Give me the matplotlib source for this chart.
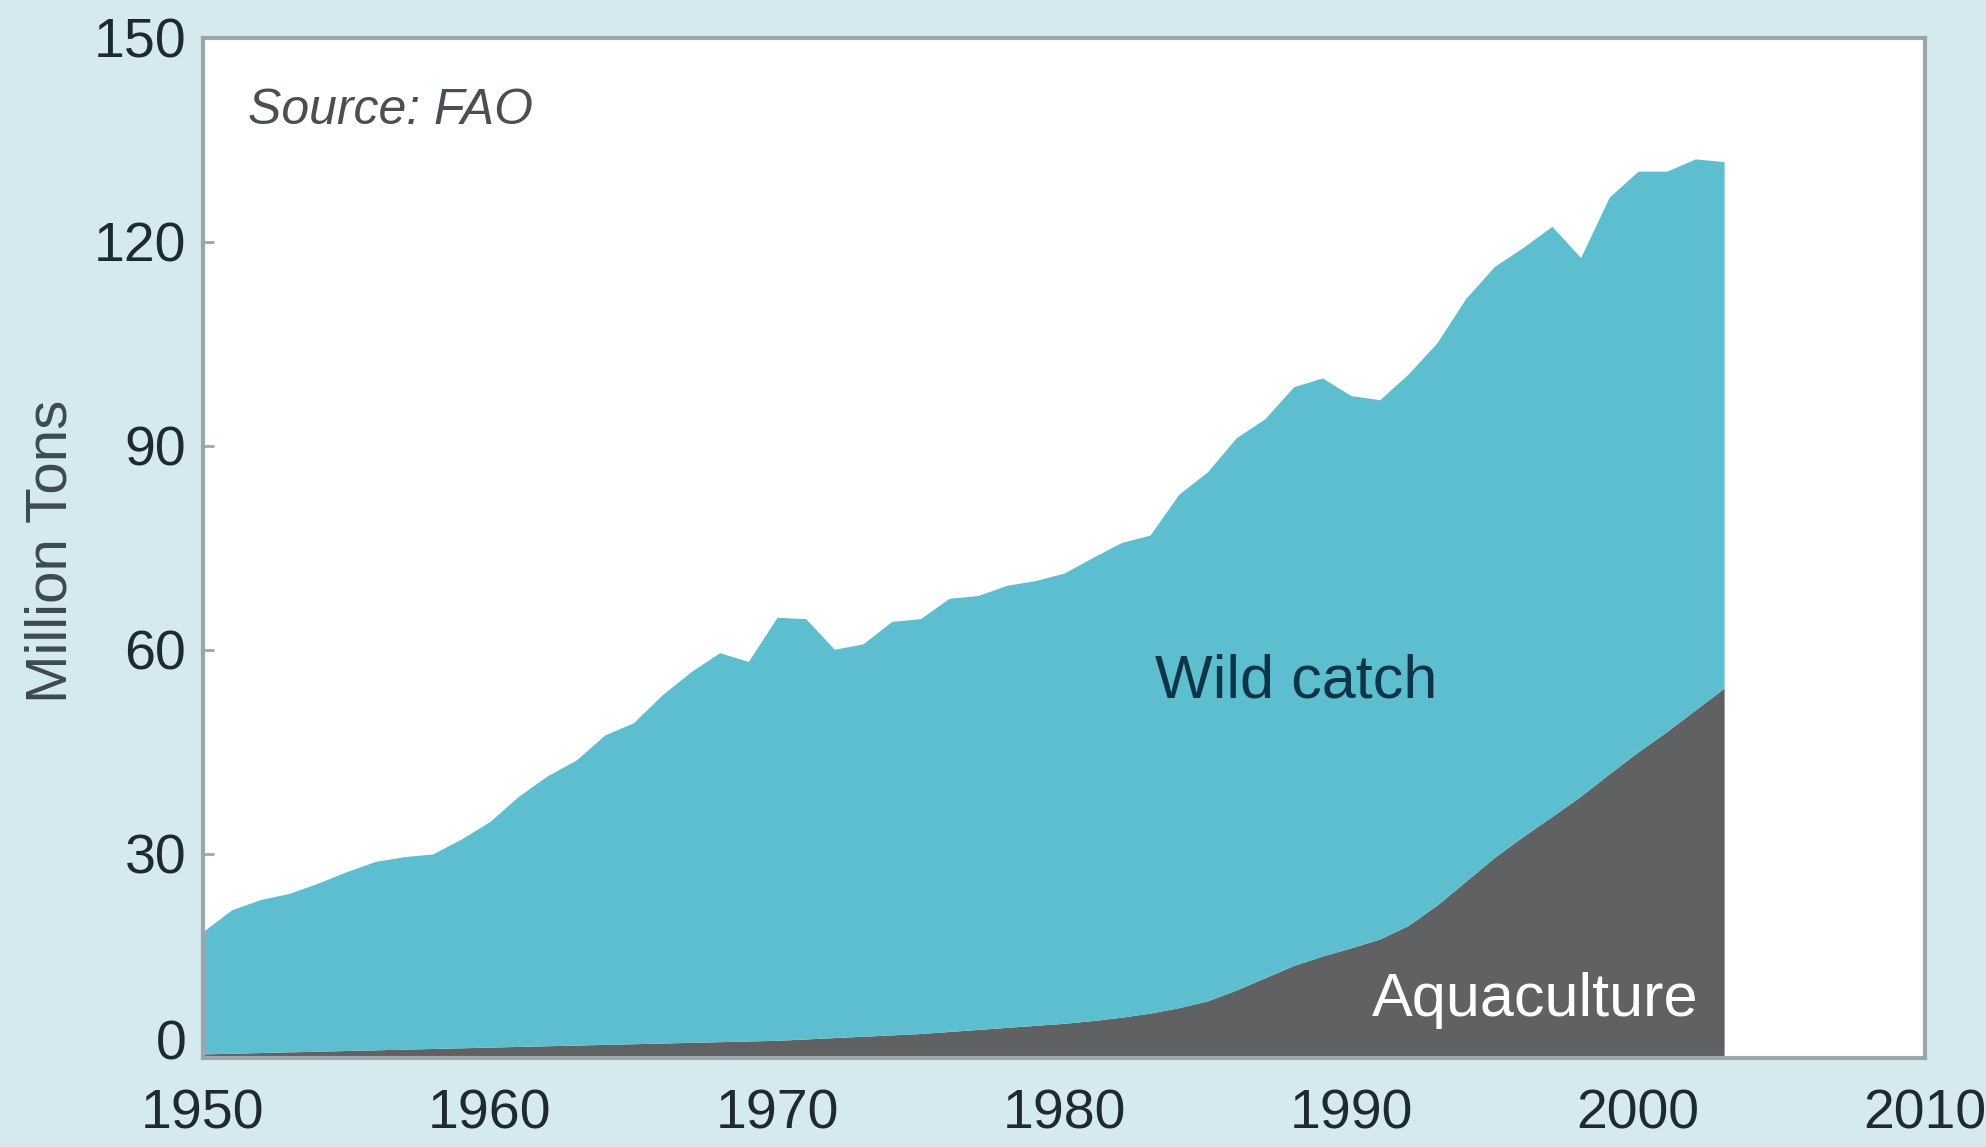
"""
World fisheries production: wild catch stacked on aquaculture (FAO).
"""

import matplotlib.pyplot as plt
from matplotlib.transforms import ScaledTranslation

# ── Style ────────────────────────────────────────────────────────────
plt.rcParams.update({
    "font.family": ["Liberation Sans", "DejaVu Sans"],
    "figure.dpi": 100,
})

BG_COLOR = "#d5eaee"
WILD_COLOR = "#5dbecf"
AQUA_COLOR = "#5f6163"
FRAME_COLOR = "#9aa6a9"
TEXT_COLOR = "#1f2a30"

# ── Data (million tons) ──────────────────────────────────────────────
years = list(range(1950, 2004))

total_production = [
    18.6, 21.8, 23.3, 24.2, 25.7, 27.4, 28.9, 29.6, 30.0, 32.2,
    34.8, 38.5, 41.5, 43.8, 47.5, 49.3, 53.4, 56.8, 59.6, 58.3,
    64.8, 64.6, 60.1, 60.9, 64.2, 64.6, 67.6, 68.0, 69.5, 70.2,
    71.3, 73.6, 75.8, 76.9, 82.9, 86.2, 91.2, 94.0, 98.7, 100.0,
    97.4, 96.8, 100.6, 105.2, 111.7, 116.4, 119.2, 122.3, 117.7, 126.6,
    130.4, 130.4, 132.2, 131.8,
]

aquaculture = [
    0.6, 0.7, 0.8, 0.9, 1.0, 1.1, 1.2, 1.3, 1.4, 1.5,
    1.6, 1.7, 1.8, 1.9, 2.0, 2.1, 2.2, 2.3, 2.4, 2.5,
    2.6, 2.8, 3.0, 3.2, 3.4, 3.6, 3.9, 4.2, 4.5, 4.8,
    5.1, 5.5, 6.0, 6.6, 7.4, 8.4, 10.0, 11.8, 13.6, 15.0,
    16.2, 17.5, 19.5, 22.5, 26.0, 29.5, 32.6, 35.5, 38.5, 41.8,
    45.0, 48.0, 51.2, 54.4,
]

x_ticks = [1950, 1960, 1970, 1980, 1990, 2000, 2010]
y_ticks = [0, 30, 60, 90, 120, 150]

# ── Plot ─────────────────────────────────────────────────────────────
fig = plt.figure(figsize=(19.86, 11.47), facecolor=BG_COLOR)
ax = fig.add_axes([0.1022, 0.0776, 0.8671, 0.8894])
ax.set_facecolor("white")

ax.fill_between(years, 0, aquaculture, color=AQUA_COLOR, linewidth=0)
ax.fill_between(years, aquaculture, total_production, color=WILD_COLOR,
                linewidth=0)

ax.set_xlim(1950, 2010)
ax.set_ylim(0, 150)
ax.set_xticks(x_ticks)
ax.set_yticks(y_ticks)
ax.tick_params(axis="y", direction="in", length=8, width=2,
               color=FRAME_COLOR, labelsize=40, labelcolor=TEXT_COLOR, pad=12)
ax.tick_params(axis="x", length=0, labelsize=40, labelcolor=TEXT_COLOR, pad=22)

# the "0" label sits a little above the baseline in the original
zero_label = ax.yaxis.get_major_ticks()[0].label1
zero_label.set_transform(zero_label.get_transform()
                         + ScaledTranslation(0, 0.18, fig.dpi_scale_trans))

for spine in ax.spines.values():
    spine.set_color(FRAME_COLOR)
    spine.set_linewidth(3)

ax.set_ylabel("Million Tons", fontsize=42, color="#3d4a50")
ax.yaxis.set_label_coords(-0.072, 0.497)

ax.text(0.026, 0.928, "Source: FAO", transform=ax.transAxes, fontsize=36,
        style="italic", color="#4a4f52", ha="left", va="center")
ax.text(1988.1, 55.3, "Wild catch", fontsize=44, color="#0d3447",
        ha="center", va="center")
ax.text(1996.4, 8.4, "Aquaculture", fontsize=44, color="white",
        ha="center", va="center")

fig.savefig("out.png", dpi=100, facecolor=BG_COLOR)
